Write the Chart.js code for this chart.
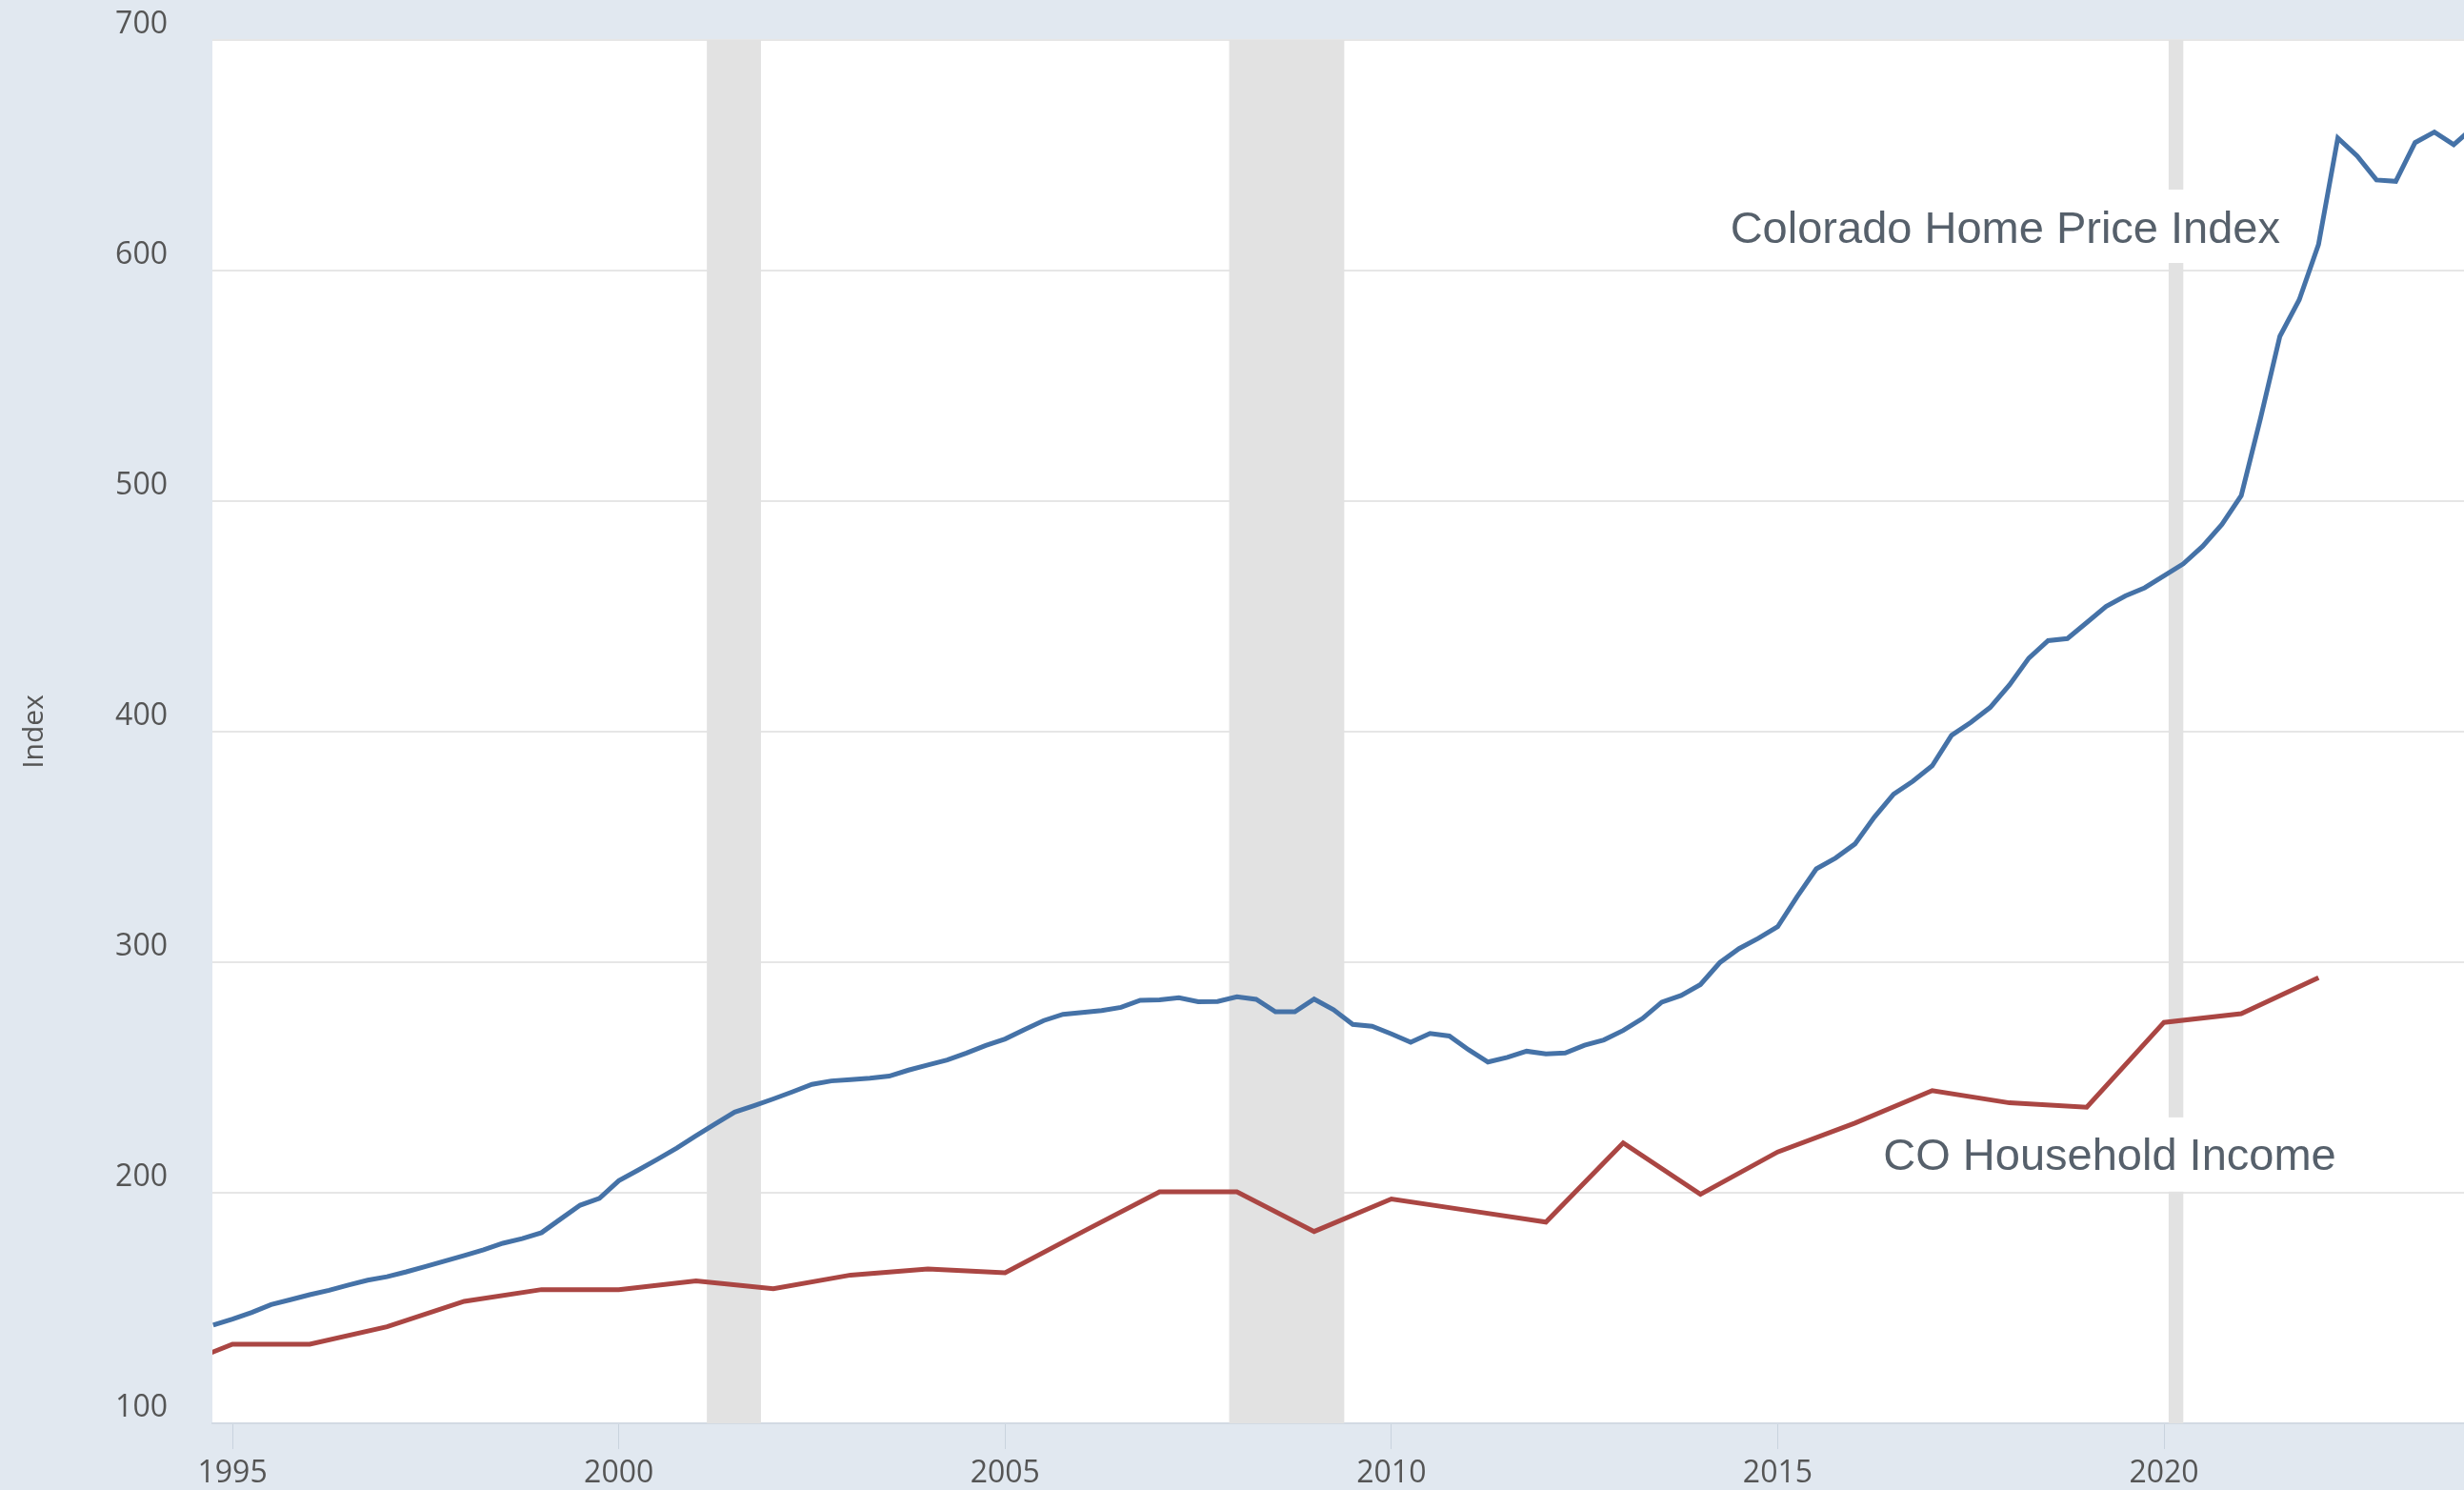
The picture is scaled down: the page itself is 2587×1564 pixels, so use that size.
<!DOCTYPE html>
<html><head><meta charset="utf-8">
<style>html,body{margin:0;padding:0;background:#e1e8f0;overflow:hidden}canvas{display:block}</style>
<script src="https://cdn.jsdelivr.net/npm/chart.js@4.4.0/dist/chart.umd.min.js"></script>
</head><body>
<canvas id="c" width="2587" height="1564"></canvas>
<script>
// ---- data ----
const firstQuarter = 1994.75; // first quarterly observation (1994 Q4)
const homePriceIndex = [
  142.6,145.2,148.1,151.5,153.6,155.8,157.7,160.0,162.1,163.6,
  165.7,168.0,170.4,172.8,175.3,178.1,180.1,182.7,188.7,194.6,
  197.6,205.2,209.8,214.5,219.4,224.7,229.9,235.0,237.8,240.7,
  243.8,247.0,248.5,249.1,249.7,250.6,253.2,255.4,257.6,260.6,
  263.9,266.7,270.8,274.7,277.4,278.2,279.0,280.4,283.5,283.7,
  284.6,282.9,283.0,285.0,283.9,278.5,278.5,284.0,279.4,273.0,
  272.2,268.9,265.3,269.1,268.0,262.0,256.7,258.7,261.4,260.2,
  260.6,264.0,266.3,270.4,275.6,282.7,285.6,290.3,299.8,305.9,
  310.4,315.4,328.4,340.5,345.2,351.3,362.9,372.9,378.5,385.2,
  398.4,404.0,410.5,420.3,431.9,439.5,440.4,447.3,454.3,458.9,
  462.4,467.6,472.8,480.4,489.9,502.4,536.0,571.5,587.3,611.3,
  657.5,649.7,639.3,638.7,655.5,660.1,654.6,662.0
];
const incomeYears = [1994,1995,1996,1997,1998,1999,2000,2001,2002,2003,2004,2005,2006,2007,2008,
  2009,2010,2011,2012,2013,2014,2015,2016,2017,2018,2019,2020,2021,2022];
const householdIncome = [121.0,134.3,134.3,141.9,152.9,158.0,158.0,161.8,158.4,164.3,166.9,165.3,183.0,200.4,200.4,
  183.2,197.3,192.3,187.3,221.6,199.3,217.7,230.2,244.3,239.0,237.1,273.9,277.7,293.3];
const xTickYears = [1995,2000,2005,2010,2015,2020];
const yTickValues = [100,200,300,400,500,600,700];
const recessions = [[2001.14,2001.84],[2007.9,2009.39],[2020.06,2020.25]];
const seriesNames = ['Colorado Home Price Index','CO Household Income'];
const yAxisTitle = 'Index';
// label boxes in data coordinates: [xLeft, xRight, yTop, yBottom]
const labelBoxes = [
  {text: seriesNames[0], box: [2014.14, 2021.75, 635.1, 603.3]},
  {text: seriesNames[1], box: [2016.12, 2023.44, 232.7, 200.5]}
];

const xMin = 1994.74, xMax = 2023.883;

const hpiPoints = homePriceIndex.map((v,i)=>({x: firstQuarter + i*0.25, y: v}));
const incPoints = householdIncome.map((v,i)=>({x: incomeYears[i], y: v}));

const bgPlugin = {
  id:'bg',
  beforeDraw(chart){
    const {ctx, chartArea:a} = chart;
    ctx.save();
    ctx.fillStyle = '#e1e8f0';
    ctx.fillRect(0,0,chart.width,chart.height);
    ctx.fillStyle = '#ffffff';
    ctx.fillRect(a.left, a.top, a.right-a.left, a.bottom-a.top);
    ctx.restore();
  },
  beforeDatasetsDraw(chart){
    const {ctx, chartArea:a, scales:{x,y}} = chart;
    ctx.save();
    ctx.fillStyle = '#e2e2e2';
    recessions.forEach(([s,e])=>{
      const x0 = Math.max(x.getPixelForValue(s), a.left);
      const x1 = Math.min(x.getPixelForValue(e), a.right);
      ctx.fillRect(x0, a.top, x1-x0, a.bottom-a.top);
    });
    labelBoxes.forEach(l=>{
      const [xl,xr,yt,yb] = l.box;
      const px0 = x.getPixelForValue(xl), px1 = Math.min(x.getPixelForValue(xr), a.right);
      const py0 = y.getPixelForValue(yt), py1 = y.getPixelForValue(yb);
      ctx.fillStyle = '#ffffff';
      ctx.fillRect(px0, py0, px1-px0, py1-py0);
      ctx.fillStyle = '#56606b';
      ctx.font = '47px "Liberation Sans", Arial, sans-serif';
      ctx.textBaseline = 'alphabetic';
      ctx.textAlign = 'left';
      ctx.fillText(l.text, px0 + 20, py0 + 55.5);
    });
    ctx.restore();
  }
};

new Chart(document.getElementById('c'), {
  type: 'line',
  data: {
    datasets: [
      {label: seriesNames[0], data: hpiPoints, borderColor:'#4572a7', borderWidth:5, pointRadius:0, tension:0, fill:false},
      {label: seriesNames[1], data: incPoints, borderColor:'#aa4643', borderWidth:5, pointRadius:0, tension:0, fill:false}
    ]
  },
  options: {
    responsive:false, animation:false, devicePixelRatio:1,
    layout:{padding:{top:42,right:0,bottom:0,left:0}},
    plugins:{legend:{display:false}, tooltip:{enabled:false}},
    scales:{
      x:{
        type:'linear', min:xMin, max:xMax,
        afterBuildTicks(s){ s.ticks = xTickYears.map(v=>({value:v})); },
        afterFit(s){ s.height = 70; s.paddingLeft = 0; s.paddingRight = 0; },
        grid:{drawOnChartArea:false, drawTicks:true, tickLength:27, color:'#c9d3de', lineWidth:1},
        border:{display:true, color:'#d2dae3', width:2},
        ticks:{padding:7, color:'#555555', font:{family:'"Open Sans"', size:32}, maxRotation:0, autoSkip:false,
          callback:(v)=>String(v)}
      },
      y:{
        min:100, max:700,
        afterBuildTicks(s){ s.ticks = yTickValues.map(v=>({value:v})); },
        afterFit(s){ s.width = 223; s.paddingTop = 0; s.paddingBottom = 0; },
        grid:{color:'#e6e6e6', lineWidth:2, drawTicks:false},
        border:{display:false},
        ticks:{padding:47, labelOffset:-16, color:'#555555', font:{family:'"Open Sans"', size:32}},
        title:{display:true, text:yAxisTitle, color:'#555555', font:{family:'"Open Sans"', size:30}, padding:{top:18,bottom:0}}
      }
    }
  },
  plugins:[bgPlugin]
});
</script>
</body></html>
